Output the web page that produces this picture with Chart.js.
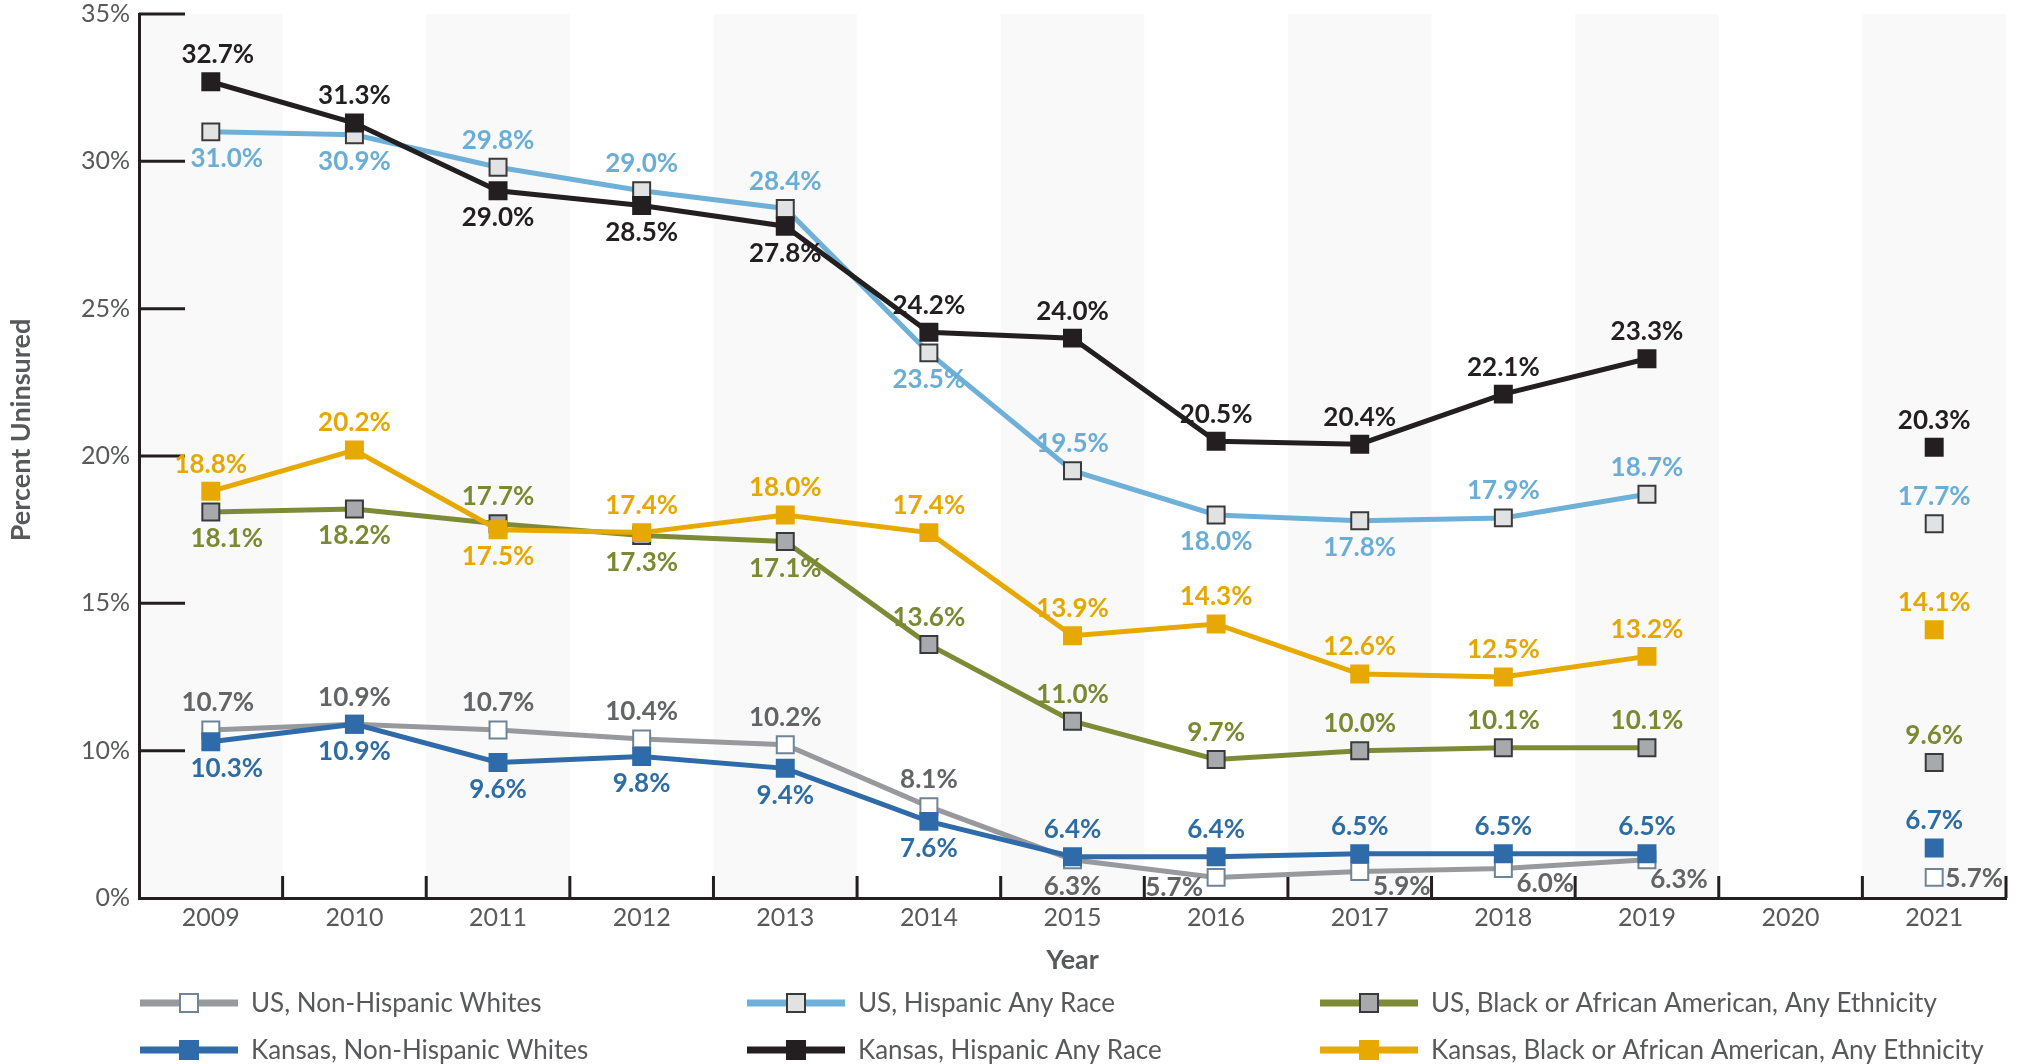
<!DOCTYPE html>
<html>
<head>
<meta charset="utf-8">
<script src="https://cdn.jsdelivr.net/npm/chart.js@4.4.1/dist/chart.umd.min.js"></script>
<style>
  html, body { margin: 0; padding: 0; background: #fff; }
  #wrap { width: 2021px; height: 1064px; }
</style>
</head>
<body>
<div id="wrap"><canvas id="uninsuredChart" width="2021" height="1064"></canvas></div>
<script>
// values (2020 has no data)
const years = ['2009', '2010', '2011', '2012', '2013', '2014', '2015', '2016', '2017', '2018', '2019', '2020', '2021'];

const usWhite   = [10.7, 10.9, 10.7, 10.4, 10.2, 8.1, 6.3, 5.7, 5.9, 6.0, 6.3, null, 5.7];
const usHisp    = [31.0, 30.9, 29.8, 29.0, 28.4, 23.5, 19.5, 18.0, 17.8, 17.9, 18.7, null, 17.7];
const usBlack   = [18.1, 18.2, 17.7, 17.3, 17.1, 13.6, 11.0, 9.7, 10.0, 10.1, 10.1, null, 9.6];
const ksWhite   = [10.3, 10.9, 9.6, 9.8, 9.4, 7.6, 6.4, 6.4, 6.5, 6.5, 6.5, null, 6.7];
const ksHisp    = [32.7, 31.3, 29.0, 28.5, 27.8, 24.2, 24.0, 20.5, 20.4, 22.1, 23.3, null, 20.3];
const ksBlack   = [18.8, 20.2, 17.5, 17.4, 18.0, 17.4, 13.9, 14.3, 12.6, 12.5, 13.2, null, 14.1];

// where each value label sits relative to its point
const usWhitePlace = ['a2', 'a', 'a', 'a', 'a', 'a', 'b', 'bl', 'br', 'br', 'br2', null, 'r'];
const usHispPlace  = ['b2', 'b', 'a', 'a', 'a', 'b', 'a', 'b', 'b', 'a', 'a', null, 'a'];
const usBlackPlace = ['b2', 'b', 'a', 'b', 'b', 'a', 'a', 'a', 'a', 'a', 'a', null, 'a'];
const ksWhitePlace = ['b2', 'b', 'b', 'b', 'b', 'b', 'a', 'a', 'a', 'a', 'a', null, 'a'];
const ksHispPlace  = ['a2', 'a', 'b', 'b', 'b', 'a', 'a', 'a', 'a', 'a', 'a', null, 'a'];
const ksBlackPlace = ['a', 'a', 'b', 'a', 'a', 'a', 'a', 'a', 'a', 'a', 'a', null, 'a'];

// axis starts at 5 but the bottom is labelled 0% (broken axis)
const yTickValues = [5, 10, 15, 20, 25, 30, 35];
const yTickLabels = ['0%', '10%', '15%', '20%', '25%', '30%', '35%'];

const FONT = 'Lato, "Noto Sans", sans-serif';
const AXIS = '#231f20';
const TEXT = '#58595b';

const placeOffset = {
  a: [0, -27], b: [0, 27], a2: [7, -27], b2: [16, 27],
  bl: [-42, 10], br: [42, 15], br2: [32, 20], r: [40, 1]
};

function series(label, data, place, line, labelColor, fill, edge, order) {
  return {
    label: label,
    data: data,
    place: place,
    labelColor: labelColor,
    borderColor: line,
    backgroundColor: line,
    borderWidth: 5,
    pointStyle: 'rect',
    pointRadius: 12,
    pointHoverRadius: 12,
    pointBackgroundColor: fill,
    pointBorderColor: edge,
    pointBorderWidth: 2,
    spanGaps: false,
    tension: 0,
    order: order
  };
}

const chartExtras = {
  id: 'chartExtras',
  beforeDraw(chart) {
    const { ctx, chartArea } = chart;
    const x = chart.scales.x;
    ctx.save();
    ctx.fillStyle = '#f9f9f9';
    for (let i = 0; i < years.length; i += 2) {
      const l = x.getPixelForValue(i - 0.5);
      const r = x.getPixelForValue(i + 0.5);
      ctx.fillRect(l, chartArea.top, r - l, chartArea.bottom - chartArea.top);
    }
    ctx.restore();
  },
  beforeDatasetsDraw(chart) {
    const { ctx, chartArea } = chart;
    const x = chart.scales.x, y = chart.scales.y;
    ctx.save();
    ctx.strokeStyle = AXIS;
    ctx.lineWidth = 3;
    ctx.beginPath();
    yTickValues.slice(1).forEach(v => {
      const py = y.getPixelForValue(v);
      ctx.moveTo(chartArea.left, py);
      ctx.lineTo(chartArea.left + 46, py);
    });
    for (let i = 1; i <= years.length; i++) {
      const px = x.getPixelForValue(i - 0.5);
      ctx.moveTo(px, chartArea.bottom);
      ctx.lineTo(px, chartArea.bottom - 22);
    }
    ctx.stroke();
    ctx.restore();
  },
  afterDatasetsDraw(chart) {
    const { ctx } = chart;
    ctx.save();
    ctx.font = 'bold 26px ' + FONT;
    ctx.textAlign = 'center';
    ctx.textBaseline = 'middle';
    chart.data.datasets.forEach((ds, di) => {
      const meta = chart.getDatasetMeta(di);
      ctx.fillStyle = ds.labelColor;
      meta.data.forEach((pt, i) => {
        const v = ds.data[i];
        if (v === null || !ds.place[i]) return;
        const off = placeOffset[ds.place[i]];
        ctx.fillText(v.toFixed(1) + '%', pt.x + off[0], pt.y + off[1]);
      });
    });
    ctx.restore();
  },
  afterDraw(chart) {
    const { ctx, chartArea } = chart;
    ctx.save();
    // axis titles
    ctx.fillStyle = TEXT;
    ctx.font = 'bold 27px ' + FONT;
    ctx.textAlign = 'center';
    ctx.textBaseline = 'middle';
    ctx.fillText('Year', (chartArea.left + chartArea.right) / 2, 960);
    ctx.save();
    ctx.translate(21, 430);
    ctx.rotate(-Math.PI / 2);
    ctx.fillText('Percent Uninsured', 0, 0);
    ctx.restore();

    // legend, 3 columns x 2 rows
    const colX = [140, 747, 1320];
    const rowY = [1003, 1050];
    ctx.font = '26px ' + FONT;
    ctx.textAlign = 'left';
    chart.data.datasets.forEach((ds, i) => {
      const x0 = colX[i % 3], y0 = rowY[Math.floor(i / 3)];
      ctx.strokeStyle = ds.borderColor;
      ctx.lineWidth = 7;
      ctx.beginPath();
      ctx.moveTo(x0, y0);
      ctx.lineTo(x0 + 98, y0);
      ctx.stroke();
      ctx.fillStyle = ds.pointBackgroundColor;
      ctx.strokeStyle = ds.pointBorderColor;
      ctx.lineWidth = 2;
      ctx.fillRect(x0 + 40, y0 - 9, 18, 18);
      ctx.strokeRect(x0 + 40, y0 - 9, 18, 18);
      ctx.fillStyle = TEXT;
      ctx.fillText(ds.label, x0 + 111, y0 + 1);
    });
    ctx.restore();
  }
};

new Chart(document.getElementById('uninsuredChart').getContext('2d'), {
  type: 'line',
  data: {
    labels: years,
    datasets: [
      series('US, Non-Hispanic Whites', usWhite, usWhitePlace, '#98999d', '#636466', '#ffffff', '#6f8496', 1),
      series('US, Hispanic Any Race', usHisp, usHispPlace, '#6fb0d9', '#6aaed6', '#e1e2e4', '#3a3a3a', 1),
      series('US, Black or African American, Any Ethnicity', usBlack, usBlackPlace, '#7e8b36', '#7b8a32', '#a8a9ad', '#3a3a3a', 1),
      series('Kansas, Non-Hispanic Whites', ksWhite, ksWhitePlace, '#2f6ba8', '#2e6da4', '#2f6ba8', '#2f6ba8', 0),
      series('Kansas, Hispanic Any Race', ksHisp, ksHispPlace, '#231f20', '#231f20', '#231f20', '#231f20', 0),
      series('Kansas, Black or African American, Any Ethnicity', ksBlack, ksBlackPlace, '#e7a800', '#e6a700', '#e7a800', '#e7a800', 0)
    ]
  },
  options: {
    responsive: false,
    animation: false,
    devicePixelRatio: 1,
    layout: { padding: { top: 11, right: 15, bottom: 0, left: 0 } },
    plugins: {
      legend: { display: false },
      tooltip: { enabled: false }
    },
    scales: {
      x: {
        offset: true,
        grid: { display: false, drawTicks: false },
        border: { color: AXIS, width: 3 },
        ticks: { color: TEXT, font: { family: FONT, size: 25 }, padding: 5, maxRotation: 0, autoSkip: false },
        afterFit(scale) { scale.height = 166; }
      },
      y: {
        min: 5,
        max: 35,
        grid: { display: false, drawTicks: false },
        border: { color: AXIS, width: 3 },
        afterBuildTicks(scale) { scale.ticks = yTickValues.map(v => ({ value: v })); },
        ticks: {
          color: TEXT,
          font: { family: FONT, size: 25, lineHeight: 0.4 },
          padding: 9,
          callback: (value, index) => yTickLabels[index]
        },
        afterFit(scale) { scale.width = 139; }
      }
    }
  },
  plugins: [chartExtras]
});
</script>
</body>
</html>
